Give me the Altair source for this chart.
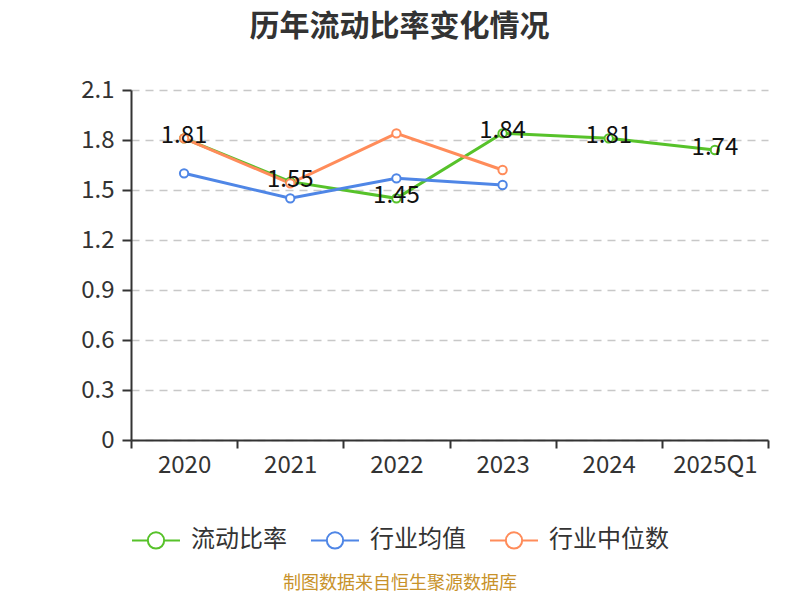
import altair as alt
import pandas as pd

years = ["2020", "2021", "2022", "2023", "2024", "2025Q1"]
ratio = [1.81, 1.55, 1.45, 1.84, 1.81, 1.74]
ind_years = ["2020", "2021", "2022", "2023"]
ind_mean = [1.60, 1.45, 1.57, 1.53]
ind_median = [1.81, 1.54, 1.84, 1.62]

series = ["流动比率", "行业均值", "行业中位数"]
colors = ["#57c22a", "#4f86e6", "#ff8c5a"]

rows = []
for y, v in zip(years, ratio):
    rows.append({"year": y, "value": v, "series": series[0], "order": 0})
for y, v in zip(ind_years, ind_mean):
    rows.append({"year": y, "value": v, "series": series[1], "order": 1})
for y, v in zip(ind_years, ind_median):
    rows.append({"year": y, "value": v, "series": series[2], "order": 2})
df = pd.DataFrame(rows)
df_main = df[df["series"] == series[0]].copy()
df_main["label"] = df_main["value"].map(lambda v: f"{v:.2f}")

FONT = "Noto Sans CJK SC"

legend_sym = ("M-1,0 L-0.34,0 M0.34,0 L1,0 "
              "M-0.34,0 A0.34,0.34 0 1 0 0.34,0 A0.34,0.34 0 1 0 -0.34,0 Z")

x_enc = alt.X(
    "year:N", sort=years, bandPosition=0.5,
    scale=alt.Scale(type="band", domain=years, paddingInner=0, paddingOuter=0),
    axis=alt.Axis(title=None, labelAngle=0, tickBand="extent", labelFontSize=24,
                  labelColor="#333333", labelFont=FONT, labelPadding=5,
                  tickSize=8, tickColor="#333333", domainColor="#333333",
                  domainWidth=2, tickWidth=2, grid=False),
)
y_enc = alt.Y(
    "value:Q",
    scale=alt.Scale(domain=[0, 2.1], nice=False, zero=True),
    axis=alt.Axis(title=None, values=[0, 0.3, 0.6, 0.9, 1.2, 1.5, 1.8, 2.1],
                  format="~g", labelFontSize=24, labelColor="#333333", labelFont=FONT,
                  tickSize=9, tickColor="#333333", domainColor="#333333",
                  domainWidth=2, tickWidth=2, labelPadding=8,
                  grid=True, gridColor="#c8c8c8", gridDash=[8, 6], gridWidth=1.5),
)
color_enc = alt.Color(
    "series:N",
    scale=alt.Scale(domain=series, range=colors),
    legend=alt.Legend(title=None, orient="bottom", direction="horizontal",
                      symbolType=legend_sym, symbolSize=2304, symbolStrokeWidth=2,
                      symbolFillColor="white", labelFontSize=24, labelFont=FONT,
                      labelColor="#333333", columnPadding=20, labelOffset=10,
                      offset=38),
)

base = alt.Chart(df)
lines = base.mark_line(strokeWidth=3).encode(
    x=x_enc, y=y_enc, color=color_enc, detail="series:N",
    order=alt.Order("order:Q"),
)
points = base.mark_point(filled=True, fill="white", size=70, strokeWidth=2, opacity=1).encode(
    x=x_enc, y=y_enc,
    stroke=alt.Stroke("series:N", scale=alt.Scale(domain=series, range=colors), legend=None),
)
labels = alt.Chart(df_main).mark_text(fontSize=24, font=FONT, color="#111111", dy=-2).encode(
    x=x_enc, y=y_enc, text="label:N",
)
source = alt.Chart(pd.DataFrame({"t": ["制图数据来自恒生聚源数据库"]})).mark_text(
    fontSize=18, font=FONT, color="#c8922a", baseline="middle"
).encode(x=alt.value(269), y=alt.value(494), text="t:N")

chart = alt.layer(lines, points, labels, source).properties(
    width=637, height=350,
    title=alt.TitleParams("历年流动比率变化情况", fontSize=30, font=FONT, fontWeight="bold",
                          color="#333333", anchor="middle", dx=-50, offset=36),
    autosize=alt.AutoSizeParams(type="none"),
    padding={"left": 123, "top": 82, "right": 16, "bottom": 152},
).configure_view(stroke=None)

chart.save("out.html", embed_options={"renderer": "svg", "actions": False})
